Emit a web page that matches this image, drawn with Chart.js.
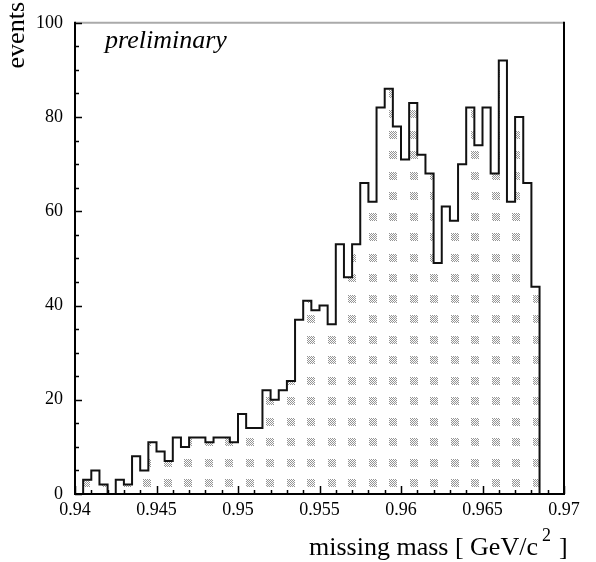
<!DOCTYPE html>
<html>
<head>
<meta charset="utf-8">
<title>missing mass</title>
<script src="https://cdn.jsdelivr.net/npm/chart.js@4.4.1/dist/chart.umd.min.js"></script>
<style>
  body { margin: 0; background: #fff; }
  #massChart { display: block; }
</style>
</head>
<body>
<canvas id="massChart" width="596" height="562"></canvas>
<script>

// bin edges, GeV/c^2 (0.0005 wide bins)
const binEdges = [
  0.9400, 0.9405, 0.9410, 0.9415, 0.9420, 0.9425, 0.9430, 0.9435, 0.9440, 0.9445,
  0.9450, 0.9455, 0.9460, 0.9465, 0.9470, 0.9475, 0.9480, 0.9485, 0.9490, 0.9495,
  0.9500, 0.9505, 0.9510, 0.9515, 0.9520, 0.9525, 0.9530, 0.9535, 0.9540, 0.9545,
  0.9550, 0.9555, 0.9560, 0.9565, 0.9570, 0.9575, 0.9580, 0.9585, 0.9590, 0.9595,
  0.9600, 0.9605, 0.9610, 0.9615, 0.9620, 0.9625, 0.9630, 0.9635, 0.9640, 0.9645,
  0.9650, 0.9655, 0.9660, 0.9665, 0.9670, 0.9675, 0.9680, 0.9685, 0.9690, 0.9695,
  0.9700
];

// events per bin
const events = [
   0,  3,  5,  2,  0,  3,  2,  8,  5, 11,
   9,  7, 12, 10, 12, 12, 11, 12, 12, 11,
  17, 14, 14, 22, 20, 22, 24, 37, 41, 39,
  40, 36, 53, 46, 53, 66, 62, 82, 86, 78,
  71, 83, 72, 68, 49, 61, 58, 70, 82, 74,
  82, 68, 92, 62, 80, 66, 44,  0,  0,  0
];

const xTicks = [0.94, 0.945, 0.95, 0.955, 0.96, 0.965, 0.97];
const yTicks = [0, 20, 40, 60, 80, 100];

const serif = "'Liberation Serif', 'DejaVu Serif', serif";

// grey dotted fill like the ROOT hatch style
const makeDots = () => {
  let tile = document.createElement("canvas");
  tile.width = 41;
  tile.height = 41;
  let g = tile.getContext("2d");
  g.fillStyle = "#949494";
  [[0, 0], [21, 0], [0, 20], [21, 20]].forEach(([bx, by]) => {
    for (let y = 0; y < 8; y++) {
      for (let x = 0; x < 8; x++) {
        if ((x + y) % 2 === 0) g.fillRect(bx + x, by + y, 1, 1);
      }
    }
  });
  let pat = g.createPattern(tile, "repeat");
  pat.setTransform(new DOMMatrix().translate(143, 418));
  return pat;
};

// histogram outline points (step drawn by chart.js)
let points = [];
for (let i = 0; i < events.length; i++) {
  points.push({ x: binEdges[i], y: events[i] });
}
points.push({ x: binEdges[binEdges.length - 1], y: events[events.length - 1] });

// frame, inward ticks and the texts
const framePlugin = {
  id: "frame",
  afterDraw(chart) {
    const ctx = chart.ctx;
    const a = chart.chartArea;
    const xs = chart.scales.x;
    const ys = chart.scales.y;
    ctx.save();

    // top border is grey in the original
    ctx.strokeStyle = "#aaaaaa";
    ctx.lineWidth = 2;
    ctx.beginPath();
    ctx.moveTo(a.left, a.top);
    ctx.lineTo(a.right, a.top);
    ctx.stroke();

    ctx.strokeStyle = "#000";
    ctx.beginPath();
    ctx.moveTo(a.right, a.top - 1);
    ctx.lineTo(a.right, a.bottom);
    ctx.moveTo(a.left, a.top - 1);
    ctx.lineTo(a.left, a.bottom);
    ctx.lineTo(a.right + 1, a.bottom);
    ctx.stroke();

    // x ticks every 0.001, long ones every 0.005
    ctx.lineWidth = 1.5;
    ctx.beginPath();
    for (let k = 0; k <= 30; k++) {
      let px = Math.round(xs.getPixelForValue(0.94 + k * 0.001)) + 0.5;
      let len = k % 5 === 0 ? 8 : 4;
      ctx.moveTo(px, a.bottom);
      ctx.lineTo(px, a.bottom - len);
    }
    // y ticks every 5, long ones every 20
    for (let v = 0; v <= 100; v += 5) {
      let py = Math.round(ys.getPixelForValue(v)) + 0.5;
      let len = v % 20 === 0 ? 7 : 4;
      ctx.moveTo(a.left, py);
      ctx.lineTo(a.left + len, py);
    }
    ctx.stroke();

    ctx.fillStyle = "#000";
    ctx.textBaseline = "alphabetic";

    ctx.font = "italic 26px " + serif;
    ctx.textAlign = "left";
    ctx.fillText("preliminary", 105, 48);

    // y title, rotated, flush with the top
    ctx.save();
    ctx.translate(24, 2);
    ctx.rotate(-Math.PI / 2);
    ctx.font = "26px " + serif;
    ctx.textAlign = "right";
    ctx.fillText("events", 0, 0);
    ctx.restore();

    // x title with superscript 2
    let tx = 309;
    const base = 555;
    ctx.font = "26px " + serif;
    ctx.fillText("missing mass [ GeV/c", tx, base);
    tx += ctx.measureText("missing mass [ GeV/c").width + 4;
    ctx.font = "18px " + serif;
    ctx.fillText("2", tx, base - 14);
    tx += ctx.measureText("2").width + 8;
    ctx.font = "26px " + serif;
    ctx.fillText("]", tx, base);

    ctx.restore();
  }
};

const massChart = document.getElementById("massChart");

new Chart(massChart, {
  type: "line",
  data: {
    datasets: [{
      label: "events",
      data: points,
      stepped: "before",
      borderColor: "#111",
      borderWidth: 2,
      backgroundColor: makeDots(),
      fill: "origin",
      pointRadius: 0,
      tension: 0
    }]
  },
  options: {
    responsive: false,
    animation: false,
    devicePixelRatio: 1,
    layout: {
      padding: { left: 0, right: 32, top: 16, bottom: 0 }
    },
    plugins: {
      legend: { display: false },
      tooltip: { enabled: false }
    },
    scales: {
      x: {
        type: "linear",
        min: xTicks[0],
        max: xTicks[xTicks.length - 1],
        afterFit: (s) => { s.height = 68; },
        afterBuildTicks: (s) => { s.ticks = xTicks.map(v => ({ value: v })); },
        border: { display: false },
        grid: { display: false, drawTicks: false },
        ticks: {
          padding: 5,
          maxRotation: 0,
          autoSkip: false,
          color: "#000",
          font: { family: serif, size: 18 },
          callback: (v) => String(Number(v.toFixed(3)))
        }
      },
      y: {
        min: yTicks[0],
        max: yTicks[yTicks.length - 1],
        afterFit: (s) => { s.width = 75; },
        afterBuildTicks: (s) => { s.ticks = yTicks.map(v => ({ value: v })); },
        border: { display: false },
        grid: { display: false, drawTicks: false },
        ticks: {
          padding: 12,
          color: "#000",
          font: { family: serif, size: 18 }
        }
      }
    }
  },
  plugins: [framePlugin]
});

</script>
</body>
</html>
